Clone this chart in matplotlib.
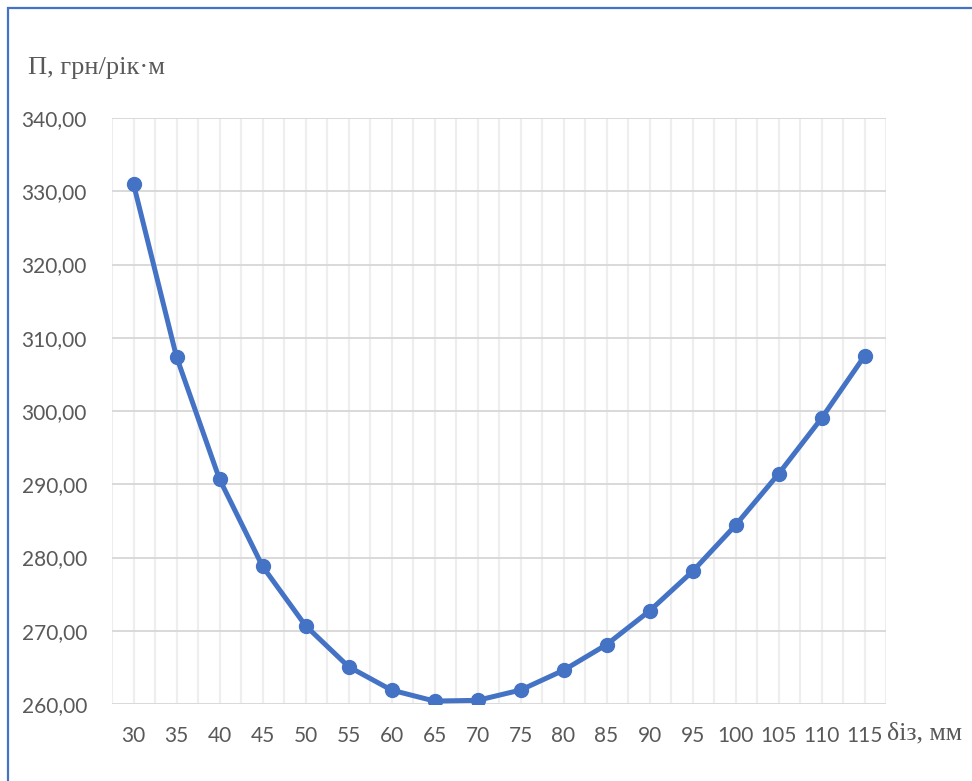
import matplotlib
matplotlib.use("Agg")
import matplotlib.pyplot as plt
from matplotlib.patches import Rectangle
import numpy as np

thickness_mm = [30, 35, 40, 45, 50, 55, 60, 65, 70, 75, 80, 85, 90, 95, 100, 105, 110, 115]
cost = [331.0, 307.4, 290.7, 278.8, 270.7, 265.1, 261.9, 260.4, 260.5, 261.9,
        264.6, 268.1, 272.7, 278.1, 284.4, 291.4, 299.0, 307.5]
y_ticks = [260, 270, 280, 290, 300, 310, 320, 330, 340]

LINE_COLOR = "#4472C4"
TEXT_COLOR = "#595959"
TICK_FONT = ["Lato", "DejaVu Sans"]
SERIF_FONT = ["Liberation Serif", "DejaVu Serif"]

fig = plt.figure(figsize=(9.72, 7.81), dpi=100)
ax = fig.add_axes([112 / 972, 1 - 704 / 781, (886 - 112) / 972, (704 - 118) / 781])

x = np.arange(len(thickness_mm))

# category boundaries and category centres both carry light vertical gridlines
for k in np.arange(-0.5, len(thickness_mm), 0.5):
    ax.axvline(k, color="#eeeeee", lw=1.6, zorder=0)
for v in y_ticks:
    ax.axhline(v, color="#d9d9d9", lw=1.4, zorder=1)

ax.plot(x, cost, color=LINE_COLOR, lw=3.6, marker="o", markersize=10,
        markerfacecolor=LINE_COLOR, markeredgecolor=LINE_COLOR, zorder=3,
        solid_capstyle="round")

ax.set_xlim(-0.5, len(thickness_mm) - 0.5)
ax.set_ylim(260, 340)
ax.set_xticks(x)
ax.set_xticklabels([str(t) for t in thickness_mm])
ax.set_yticks(y_ticks)
ax.set_yticklabels([f"{v:.2f}".replace(".", ",") for v in y_ticks])
ax.tick_params(axis="both", length=0, labelsize=15, colors=TEXT_COLOR)
ax.tick_params(axis="x", pad=16)
ax.tick_params(axis="y", pad=18)
for lab in ax.get_xticklabels() + ax.get_yticklabels():
    lab.set_family(TICK_FONT)
for s in ax.spines.values():
    s.set_visible(False)

fig.text(28 / 972, 1 - 68 / 781, "П, грн/рік·м", family=SERIF_FONT, fontsize=19,
         color=TEXT_COLOR, va="center", ha="left")
fig.text(887 / 972, 1 - 733 / 781, "δіз, мм", family=SERIF_FONT, fontsize=18.5,
         color=TEXT_COLOR, va="center", ha="left")

# chart frame
fig.patches.append(Rectangle((8 / 972, -0.1), 1.2, 1 - 8 / 781 + 0.1,
                             transform=fig.transFigure, fill=False,
                             edgecolor="#4472C4", lw=1.6, zorder=10))

fig.savefig("out.png", dpi=100)
